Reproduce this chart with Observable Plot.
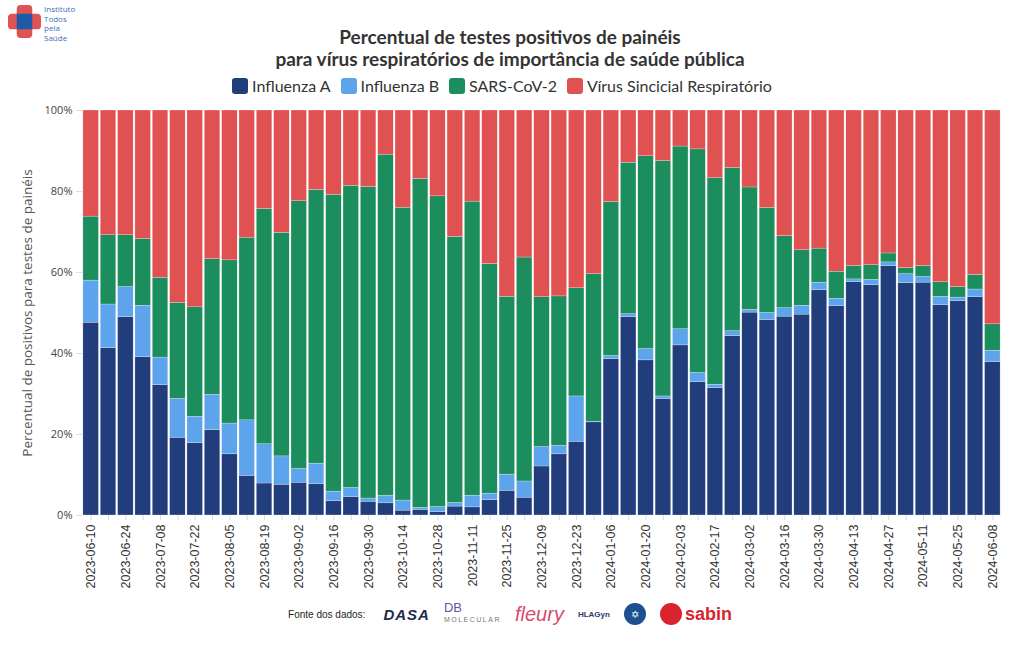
<!DOCTYPE html>
<html>
<head>
<meta charset="utf-8">
<script src="https://cdn.jsdelivr.net/npm/d3@7"></script>
<script src="https://cdn.jsdelivr.net/npm/@observablehq/plot@0.6"></script>
<style>
  html, body { margin: 0; padding: 0; background: #fff; }
  body { width: 1020px; height: 650px; position: relative; overflow: hidden; font-family: Lato, "Open Sans", sans-serif; }
  #logo { position: absolute; left: 8px; top: 5px; display: flex; align-items: flex-start; }
  #logo .txt { font-family: "Open Sans", sans-serif; font-size: 8px; line-height: 9.5px; color: #3b6fb6; margin-left: 3px; margin-top: -1px; }
  #header { position: absolute; left: 0; top: 0; width: 1020px; height: 100px; text-align: center; }
  .tl { position: absolute; width: 1020px; font-weight: 700; font-size: 19px; line-height: 21px; color: #333; }
  #legend { position: absolute; top: 76px; left: 0; width: 1004px; display: flex; justify-content: center; gap: 10px; font-size: 16px; color: #333; }
  #legend .item { display: flex; align-items: center; }
  #legend .sw { width: 16px; height: 16px; border-radius: 3px; margin-right: 4px; }
  #chart { position: absolute; left: 0; top: 100px; }
  #footer { position: absolute; top: 599px; left: 0; width: 1020px; height: 30px; display: flex; justify-content: center; align-items: center; gap: 14px; font-family: "Liberation Sans", Arial, sans-serif; }
  #footer .src { font-size: 10px; color: #222; margin-right: 4px; }
</style>
</head>
<body>
<div id="header">
  <div class="tl" style="top:26px">Percentual de testes positivos de painéis</div>
  <div class="tl" style="top:48px">para vírus respiratórios de importância de saúde pública</div>
  <div id="legend"></div>
</div>
<div id="logo">
  <svg width="33" height="33" viewBox="0 0 34 34">
    <rect x="9" y="0" width="16" height="34" rx="4" fill="#e05353"/>
    <rect x="0" y="9" width="34" height="16" rx="4" fill="#e05353"/>
    <rect x="9" y="9" width="16" height="16" fill="#1f5aa8"/>
  </svg>
  <div class="txt">Instituto<br>Todos<br>pela<br>Saúde</div>
</div>
<div id="chart"></div>
<div id="footer">
  <span class="src">Fonte dos dados:</span>
  <span style="font-weight:900;font-size:15px;color:#1d2b4a;letter-spacing:1px;font-style:italic;">DASA</span>
  <span style="font-size:13px;color:#6a4fa3;line-height:10px;text-align:left;">DB<br><span style="font-size:7px;letter-spacing:1.5px;color:#777;">MOLECULAR</span></span>
  <span style="font-size:20px;color:#d94a6a;font-style:italic;">fleury</span>
  <span style="font-size:8px;font-weight:700;color:#2a3a6a;">HLAGyn</span>
  <span style="display:inline-flex;align-items:center;justify-content:center;width:22px;height:22px;border-radius:11px;background:#1d4f91;color:#fff;font-size:10px;">✡</span>
  <span style="display:inline-flex;align-items:center;"><span style="width:22px;height:22px;border-radius:11px;background:#d9232e;display:inline-block;margin-right:3px;"></span><span style="font-size:18px;color:#d9232e;font-weight:700;">sabin</span></span>
</div>
<script>
const dates = ["2023-06-10","2023-06-17","2023-06-24","2023-07-01","2023-07-08","2023-07-15","2023-07-22","2023-07-29","2023-08-05","2023-08-12","2023-08-19","2023-08-26","2023-09-02","2023-09-09","2023-09-16","2023-09-23","2023-09-30","2023-10-07","2023-10-14","2023-10-21","2023-10-28","2023-11-04","2023-11-11","2023-11-18","2023-11-25","2023-12-02","2023-12-09","2023-12-16","2023-12-23","2023-12-30","2024-01-06","2024-01-13","2024-01-20","2024-01-27","2024-02-03","2024-02-10","2024-02-17","2024-02-24","2024-03-02","2024-03-09","2024-03-16","2024-03-23","2024-03-30","2024-04-06","2024-04-13","2024-04-20","2024-04-27","2024-05-04","2024-05-11","2024-05-18","2024-05-25","2024-06-01","2024-06-08"];

const fluA = [47.6,41.3,49.0,39.1,32.2,19.2,17.9,21.1,15.1,9.8,7.9,7.6,8.1,7.7,3.5,4.5,3.4,3.0,1.2,1.4,0.8,2.2,2.0,3.8,6.1,4.4,12.1,15.1,18.2,23.0,38.6,49.0,38.3,28.8,42.0,32.9,31.5,44.3,50.1,48.3,49.1,49.6,55.6,51.7,57.6,56.9,61.6,57.4,57.5,51.9,52.9,53.9,37.9];
const fluB = [10.4,10.8,7.4,12.7,6.8,9.6,6.5,8.7,7.6,13.7,9.7,7.0,3.4,5.1,2.4,2.3,0.8,1.9,2.5,0.5,1.3,0.9,2.9,1.6,4.0,4.0,4.8,2.1,11.2,0.1,0.8,0.7,2.8,0.6,4.0,2.3,0.8,1.2,0.7,1.7,2.1,2.2,1.9,1.8,0.7,1.3,0.9,2.2,1.4,2.1,0.9,1.9,2.8];
const sars = [15.8,17.1,12.8,16.5,19.7,23.7,27.0,33.5,40.3,45.1,58.1,55.2,66.1,67.6,73.3,74.6,76.9,84.2,72.3,81.2,76.7,65.7,72.6,56.7,43.9,55.3,37.0,36.9,26.7,36.5,38.0,37.4,47.6,58.1,45.1,55.2,51.0,40.3,30.2,25.9,17.8,13.7,8.4,6.7,3.3,3.6,2.2,1.5,2.7,3.6,2.6,3.6,6.5];
const rsv = [26.2,30.8,30.8,31.7,41.3,47.5,48.6,36.7,37.0,31.4,24.3,30.2,22.4,19.6,20.8,18.6,18.9,10.9,24.0,16.9,21.2,31.2,22.5,37.9,46.0,36.3,46.1,45.9,43.9,40.4,22.6,12.9,11.3,12.5,8.9,9.6,16.7,14.2,19.0,24.1,31.0,34.5,34.1,39.8,38.4,38.2,35.3,38.9,38.4,42.4,43.6,40.6,52.8];

const seriesNames = ["Influenza A","Influenza B","SARS-CoV-2","Vírus Sincicial Respiratório"];
const seriesColors = ["#213d7b","#5da4ec","#1c8d5c","#e05151"];
const yTicks = [0, 20, 40, 60, 80, 100];

const seriesValues = [fluA, fluB, sars, rsv];
const data = [];
dates.forEach((d, i) => {
  seriesValues.forEach((arr, s) => data.push({date: d, series: seriesNames[s], value: arr[i]}));
});

const leg = document.getElementById("legend");
seriesNames.forEach((n, i) => {
  const it = document.createElement("div");
  it.className = "item";
  it.innerHTML = `<span class="sw" style="background:${seriesColors[i]}"></span><span>${n}</span>`;
  leg.appendChild(it);
});

const chart = Plot.plot({
  width: 1020,
  height: 500,
  marginTop: 10,
  marginBottom: 85,
  marginLeft: 82,
  marginRight: 19,
  style: {fontFamily: "'Open Sans', sans-serif", background: "white"},
  x: {domain: dates, paddingInner: 0, paddingOuter: 0, round: false, label: null},
  y: {domain: [0, 100], label: null},
  color: {domain: seriesNames, range: seriesColors},
  marks: [
    Plot.barY(data, Plot.stackY({order: null}, {x: "date", y: "value", fill: "series", insetLeft: 0.9, insetRight: 0.9, stroke: "white", strokeWidth: 0.4, strokeOpacity: 0.6})),
    Plot.axisY({ticks: yTicks, tickFormat: d => d + "%", tickSize: 6, stroke: "#ddd", fill: "#444", fontSize: 11, tickPadding: 4,
      label: "Percentual de positivos para testes de painéis", labelAnchor: "center", labelArrow: "none", labelOffset: 60}),
    Plot.axisX({tickRotate: -90, tickSize: 5, stroke: "#ddd", fill: "#333", tickPadding: 4, fontSize: 12.5,
      fontFamily: "'Liberation Sans', Arial, sans-serif",
      tickFormat: (d) => dates.indexOf(d) % 2 === 0 ? d : ""})
  ]
});
document.getElementById("chart").appendChild(chart);
chart.querySelectorAll("g[aria-label='y-axis label'] text").forEach(t => { t.setAttribute("font-size", "13.5"); t.setAttribute("fill", "#555"); });
</script>
</body>
</html>
